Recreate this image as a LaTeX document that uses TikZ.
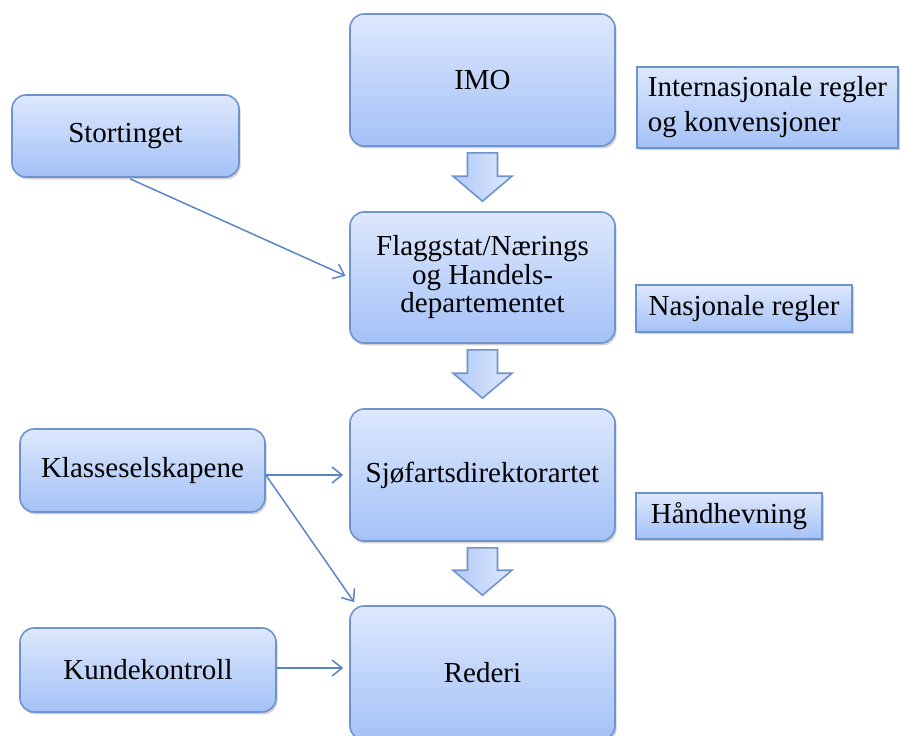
\documentclass[tikz,border=0pt]{standalone}
\usepackage{fontspec}
\setmainfont{Liberation Serif}
\usetikzlibrary{calc,shadows,arrows.meta}
\definecolor{boxtop}{HTML}{DDE8FC}
\definecolor{boxbot}{HTML}{A4C1F7}
\definecolor{boxline}{HTML}{6F94CD}
\definecolor{conn}{HTML}{5A86C5}
\tikzset{
  base/.style={draw=boxline, line width=0.8pt, top color=boxtop, bottom color=boxbot,
    drop shadow={shadow xshift=0.8pt, shadow yshift=-1.2pt, opacity=0.3, fill=black!60},
    inner sep=0pt, align=center, font=\fontsize{14.5}{14.25}\selectfont},
  rbox/.style={base, rounded corners=7pt},
  lbox/.style={base, rounded corners=0pt},
  conarrow/.style={draw=conn, line width=0.75pt, -{Straight Barb[length=5pt,width=8pt,line width=0.75pt]}},
  barrow/.style={draw=boxline, line width=0.8pt, left color=boxbot!85!white, right color=boxtop, line join=miter},
}
\newcommand\blockarr[2]{%
  \coordinate (t) at ($(#1.south)+(0,6)$);
  \coordinate (b) at ($(#2.north)+(0,-10)$);
  \draw[barrow] ($(t)+(-15,0)$) -- ($(t)+(15,0)$) -- ($(b)+(15,-25)$) -- ($(b)+(29.5,-25)$)
    -- (b) -- ($(b)+(-29.5,-25)$) -- ($(b)+(-15,-25)$) -- cycle;
}
\begin{document}
\begin{tikzpicture}[x=0.5pt,y=-0.5pt]
\useasboundingbox (0,0) rectangle (901,735);
\clip (0,0) rectangle (901,735);
% main column
\node[rbox, minimum width=0.5*265pt, minimum height=0.5*132pt] (imo) at (482.5,80) {IMO};
\node[rbox, minimum width=0.5*265pt, minimum height=0.5*131pt] (flg) at (482.5,277.5) {Flaggstat/Nærings\\og Handels-\\departementet};
\node[rbox, minimum width=0.5*265pt, minimum height=0.5*132pt] (sjo) at (482.5,475) {Sjøfartsdirektorartet};
\node[rbox, minimum width=0.5*265pt, minimum height=0.5*134pt] (red) at (482.5,673) {Rederi};
% left column
\node[rbox, minimum width=0.5*227pt, minimum height=0.5*82pt] (sto) at (125.5,136) {Stortinget};
\node[rbox, minimum width=0.5*245pt, minimum height=0.5*83pt] (kla) at (142.5,470.5) {Klasseselskapene};
\node[rbox, minimum width=0.5*256pt, minimum height=0.5*84pt] (kun) at (148,670) {Kundekontroll};
% right labels
\node[lbox, minimum width=0.5*261pt, minimum height=0.5*81pt, align=left,
  font=\fontsize{14.5}{17.5}\selectfont] (int) at (767.5,107.5) {Internasjonale regler\\og konvensjoner};
\node[lbox, minimum width=0.5*216pt, minimum height=0.5*47pt] (nas) at (744,308.5) {Nasjonale regler};
\node[lbox, minimum width=0.5*186pt, minimum height=0.5*46pt] (han) at (729,516) {Håndhevning};
% block arrows
\blockarr{imo}{flg}
\blockarr{flg}{sjo}
\blockarr{sjo}{red}
% connectors
\coordinate (stoout) at ($(sto.south)+(4.5,1)$);
\draw[conarrow, shorten >=2pt] (stoout) -- (flg.west);
\coordinate (klaout) at (kla.east |- sjo.west);
\draw[conarrow, shorten >=3pt] (klaout) -- (sjo.west);
\coordinate (redin) at ($(red.north west)+(5,-3)$);
\draw[conarrow] (klaout) -- (redin);
\coordinate (kunout) at ($(kun.east)+(0,-2)$);
\draw[conarrow, shorten >=3pt] (kunout) -- (kunout -| red.west);
\end{tikzpicture}
\end{document}
